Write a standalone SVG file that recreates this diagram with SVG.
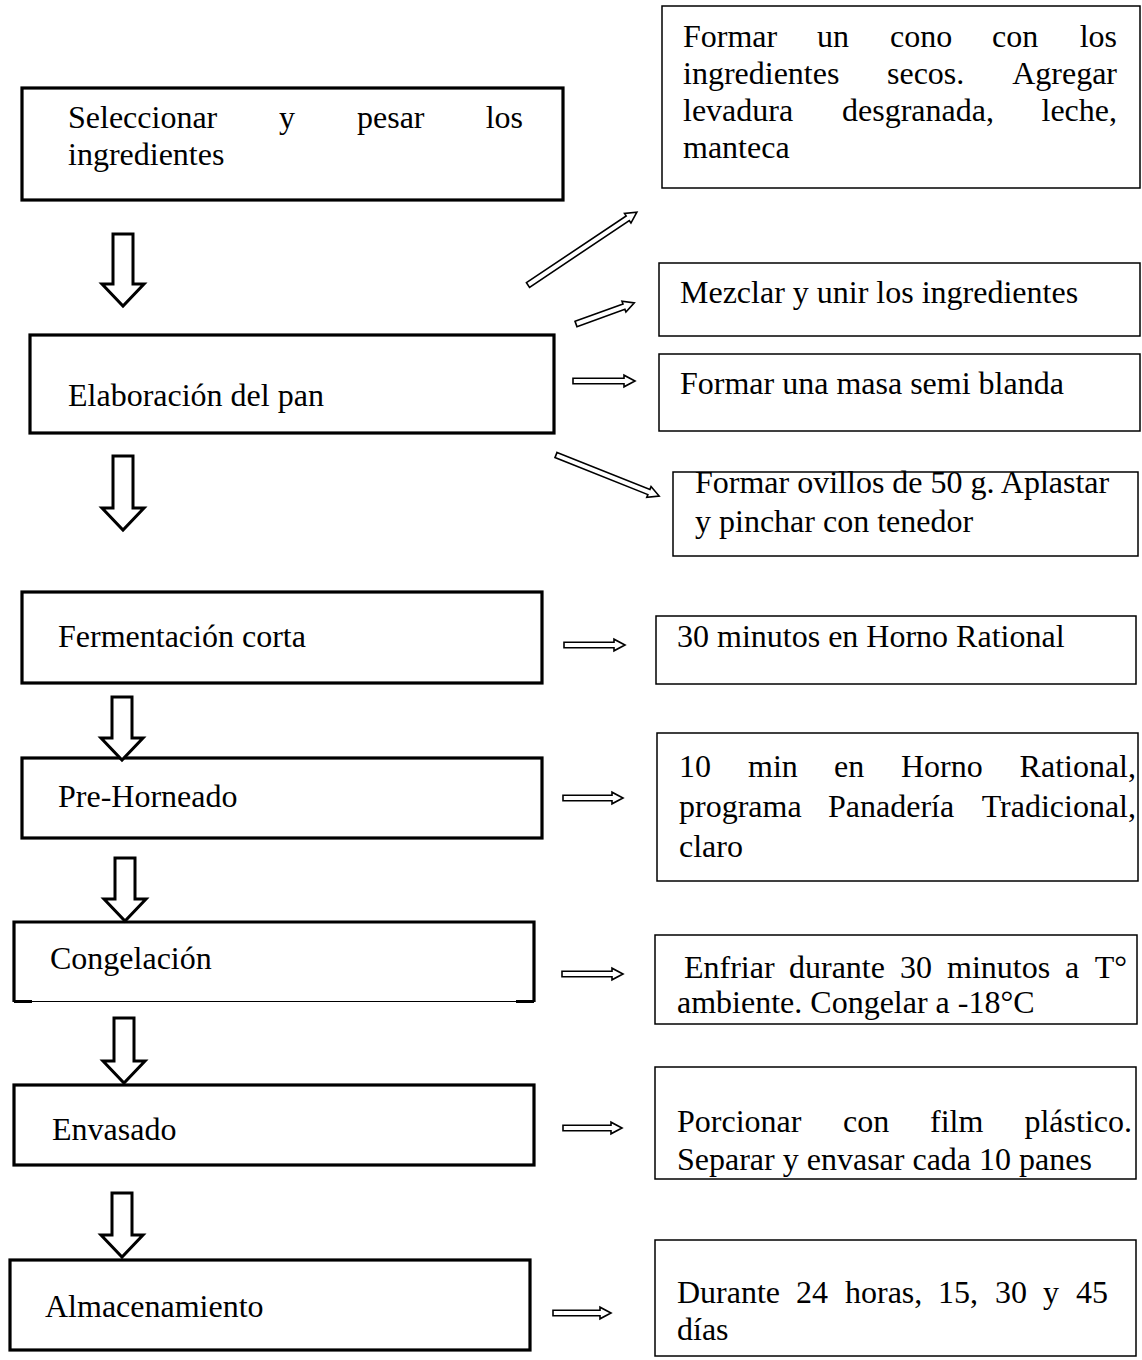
<svg xmlns="http://www.w3.org/2000/svg" width="1142" height="1360" viewBox="0 0 1142 1360">
<defs>
<style>
text{font-family:"Liberation Serif","Times New Roman",serif;font-size:32px;fill:#000}
.step{fill:#fff;stroke:#000;stroke-width:3.2}
.note{fill:#fff;stroke:#000;stroke-width:1.5}
.down{fill:#fff;stroke:#000;stroke-width:3;stroke-linejoin:miter}
.thin{fill:#fff;stroke:#000;stroke-width:1.6;stroke-linejoin:miter}
.e{text-anchor:end}
</style>
</defs>
<rect width="1142" height="1360" fill="#fff"/>

<g id="n1"><rect class="step" x="22" y="88" width="541" height="112"/>
<text y="128"><tspan x="68">Seleccionar</tspan><tspan x="279">y</tspan><tspan x="357">pesar</tspan></text>
<text class="e" x="523" y="128">los</text>
<text x="68" y="165">ingredientes</text></g>

<g id="n2"><rect class="step" x="30" y="335" width="524" height="98"/>
<text x="68" y="406">Elaboración del pan</text></g>

<g id="n3"><rect class="step" x="22" y="592" width="520" height="91"/>
<text x="58" y="647">Fermentación corta</text></g>

<g id="n4"><rect class="step" x="22" y="758" width="520" height="80"/>
<text x="58" y="807">Pre-Horneado</text></g>

<g id="n5"><rect fill="#fff" x="14" y="922" width="520" height="80"/>
<path d="M14,1002 V922 H534 V1002" fill="none" stroke="#000" stroke-width="3.2"/>
<line x1="14" y1="1001.5" x2="534" y2="1001.5" stroke="#000" stroke-width="1.2"/>
<path d="M14,1001.5 H32 M516,1001.5 H534" stroke="#000" stroke-width="3.2"/>
<text x="50" y="969">Congelación</text></g>

<g id="n6"><rect class="step" x="14" y="1085" width="520" height="80"/>
<text x="52" y="1140">Envasado</text></g>

<g id="n7"><rect class="step" x="10" y="1260" width="520" height="90"/>
<text x="45" y="1317">Almacenamiento</text></g>

<g id="r1"><rect class="note" x="662" y="6" width="478" height="182"/>
<text y="47"><tspan x="683">Formar</tspan><tspan x="817">un</tspan><tspan x="890">cono</tspan><tspan x="992">con</tspan></text>
<text class="e" x="1117" y="47">los</text>
<text y="84"><tspan x="683">ingredientes</tspan><tspan x="887">secos.</tspan></text>
<text class="e" x="1117" y="84">Agregar</text>
<text y="121"><tspan x="683">levadura</tspan><tspan x="842">desgranada,</tspan></text>
<text class="e" x="1117" y="121">leche,</text>
<text x="683" y="158">manteca</text></g>

<g id="r2"><rect class="note" x="659" y="263" width="481" height="73"/>
<text x="680" y="303">Mezclar y unir los ingredientes</text></g>

<g id="r3"><rect class="note" x="659" y="354" width="481" height="77"/>
<text x="680" y="394">Formar una masa semi blanda</text></g>

<g id="r4"><rect class="note" x="673" y="472" width="465" height="84"/>
<text x="695" y="493">Formar ovillos de 50 g. Aplastar</text>
<text x="695" y="532">y pinchar con tenedor</text></g>

<g id="r5"><rect class="note" x="656" y="616" width="480" height="68"/>
<text x="677" y="647">30 minutos en Horno Rational</text></g>

<g id="r6"><rect class="note" x="657" y="733" width="481" height="148"/>
<text y="777"><tspan x="679">10</tspan><tspan x="748">min</tspan><tspan x="834">en</tspan><tspan x="901">Horno</tspan></text>
<text class="e" x="1136" y="777">Rational,</text>
<text y="817"><tspan x="679">programa</tspan><tspan x="828">Panadería</tspan></text>
<text class="e" x="1136" y="817">Tradicional,</text>
<text x="679" y="857">claro</text></g>

<g id="r7"><rect class="note" x="655" y="935" width="482" height="89"/>
<text y="978"><tspan x="684">Enfriar</tspan><tspan x="789">durante</tspan><tspan x="900">30</tspan><tspan x="947">minutos</tspan><tspan x="1065">a</tspan></text>
<text class="e" x="1127" y="978">T°</text>
<text x="677" y="1013">ambiente. Congelar a -18°C</text></g>

<g id="r8"><rect class="note" x="655" y="1067" width="481" height="112"/>
<text y="1132"><tspan x="677">Porcionar</tspan><tspan x="843">con</tspan><tspan x="930">film</tspan></text>
<text class="e" x="1132" y="1132">plástico.</text>
<text x="677" y="1170">Separar y envasar cada 10 panes</text></g>

<g id="r9"><rect class="note" x="655" y="1240" width="481" height="116"/>
<text y="1303"><tspan x="677">Durante</tspan><tspan x="796">24</tspan><tspan x="845">horas,</tspan><tspan x="938">15,</tspan><tspan x="995">30</tspan><tspan x="1043">y</tspan></text>
<text class="e" x="1108" y="1303">45</text>
<text x="677" y="1340">días</text></g>

<g id="connectors">
<path class="down" d="M113,234 H133 V284 H144 L123,306 L102,284 H113 Z"/>
<path class="down" d="M113,456 H133 V508 H144 L123,530 L102,508 H113 Z"/>
<path class="down" d="M112,697 H132 V738 H143 L122,760 L101,738 H112 Z"/>
<path class="down" d="M115,858 H135 V899 H146 L125,921 L104,899 H115 Z"/>
<path class="down" d="M114,1018 H134 V1061 H145 L124,1083 L103,1061 H114 Z"/>
<path class="down" d="M112,1193 H132 V1235 H143 L122,1257 L101,1235 H112 Z"/>

<g transform="translate(528,285) rotate(-33.8)"><path class="thin" d="M0,-2.8 H120 V-5.8 L131,0 L120,5.8 V2.8 H0 Z"/></g>
<g transform="translate(576,324) rotate(-19.9)"><path class="thin" d="M0,-2.8 H51 V-5.8 L62,0 L51,5.8 V2.8 H0 Z"/></g>
<path class="thin" d="M573,378.2 H624 V375.2 L635,381 L624,386.8 V383.8 H573 Z"/>
<g transform="translate(556,455) rotate(21.7)"><path class="thin" d="M0,-2.8 H100 V-5.8 L111,0 L100,5.8 V2.8 H0 Z"/></g>
<path class="thin" d="M564,642.2 H614 V639.2 L625,645 L614,650.8 V647.8 H564 Z"/>
<path class="thin" d="M563,795.2 H612 V792.2 L623,798 L612,803.8 V800.8 H563 Z"/>
<path class="thin" d="M562,971.2 H612 V968.2 L623,974 L612,979.8 V976.8 H562 Z"/>
<path class="thin" d="M563,1125.2 H611 V1122.2 L622,1128 L611,1133.8 V1130.8 H563 Z"/>
<path class="thin" d="M553,1310.2 H600 V1307.2 L611,1313 L600,1318.8 V1315.8 H553 Z"/>
</g>
</svg>
